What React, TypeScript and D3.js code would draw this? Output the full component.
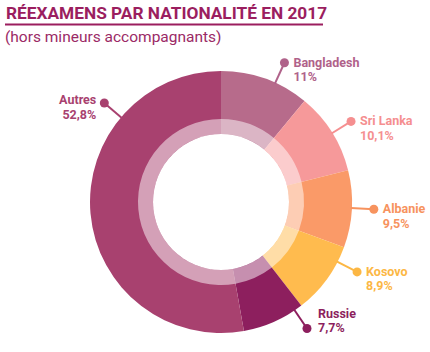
import React from "react";
import * as d3 from "d3";

const categories = ["Bangladesh", "Sri Lanka", "Albanie", "Kosovo", "Russie", "Autres"];
const values = [11, 10.1, 9.5, 8.9, 7.7, 52.8];
const valueLabels = ["11%", "10,1%", "9,5%", "8,9%", "7,7%", "52,8%"];
const colors = ["#b76b8b", "#f6999a", "#fa9a68", "#ffbb4e", "#8d1f5e", "#a8416f"];
const labelColors = ["#b0628a", "#f58f90", "#f7935e", "#fcb744", "#8d1f5e", "#a8416f"];
// label leader angles (degrees, clockwise from top) – layout only
const labelAngles = [24.5, 58.2, 92.7, 117.2, 145.8, 310.3];

const W = 430, H = 352;
const cx = 221, cy = 202;
const rOuter = 131, rRing = 83, rHole = 68, rDot = 153;

export default function App() {
  const pie = d3.pie<number>().value((d) => d).sort(null);
  const arcs = pie(values);
  const outerArc = d3.arc<d3.PieArcDatum<number>>().innerRadius(0).outerRadius(rOuter);
  const ringArc = d3.arc<d3.PieArcDatum<number>>().innerRadius(rHole).outerRadius(rRing);

  return (
    <svg width={W} height={H} style={{ position: "absolute", left: 0, top: 0 }} fontFamily="Roboto">
      <text x={6} y={19} fontSize={17.3} fontWeight={700} fill="#9b1e5f">RÉEXAMENS PAR NATIONALITÉ EN 2017</text>
      <line x1={5} x2={323} y1={24.5} y2={24.5} stroke="#9b1e5f" strokeWidth={2} />
      <text x={5} y={42} fontSize={15.5} fill="#9b2a66">(hors mineurs accompagnants)</text>
      <g transform={`translate(${cx},${cy})`}>
        {arcs.map((a, i) => (
          <path key={"o" + i} d={outerArc(a) || ""} fill={colors[i]} />
        ))}
        {arcs.map((a, i) => (
          <path key={"r" + i} d={ringArc(a) || ""} fill="#ffffff" fillOpacity={0.5} />
        ))}
        <circle r={rHole} fill="#ffffff" />
      </g>
      {categories.map((c, i) => {
        const ang = (labelAngles[i] * Math.PI) / 180;
        const sx = Math.sin(ang), sy = -Math.cos(ang);
        const dx = cx + rDot * sx, dy = cy + rDot * sy;
        const ex = cx + (rOuter - 1) * sx, ey = cy + (rOuter - 1) * sy;
        const left = sx < 0;
        const below = labelAngles[i] > 135 && labelAngles[i] < 225;
        const tx = left ? dx - 8 : dx + (below ? 11 : 9);
        const ty = below ? dy - 11 : dy + (left ? 1 : 4);
        return (
          <g key={"l" + i}>
            <line x1={dx} y1={dy} x2={ex} y2={ey} stroke={labelColors[i]} strokeWidth={2} />
            <circle cx={dx} cy={dy} r={4.5} fill={labelColors[i]} />
            <text x={tx} y={ty} fontSize={12.5} fontWeight={700} fill={labelColors[i]} textAnchor={left ? "end" : "start"}>
              <tspan x={tx}>{c}</tspan>
              <tspan x={tx} dy={14.5}>{valueLabels[i]}</tspan>
            </text>
          </g>
        );
      })}
    </svg>
  );
}
